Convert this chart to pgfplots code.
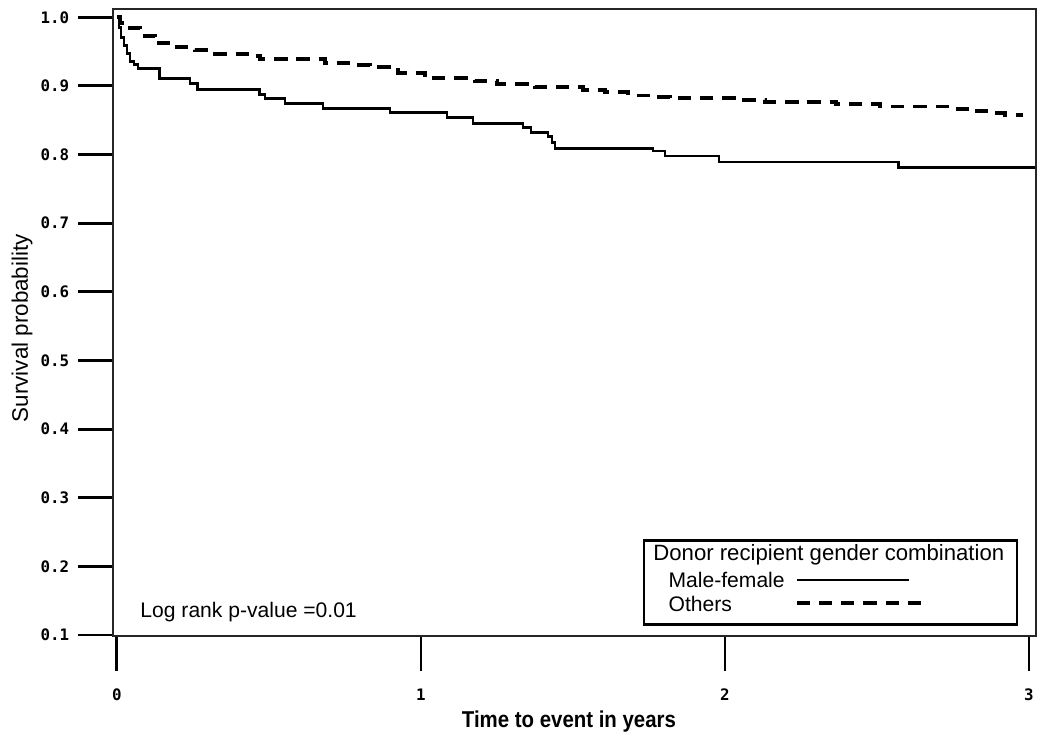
\documentclass[border=0pt]{standalone}
\usepackage{fontspec}
\setmainfont{Liberation Sans}
\newfontfamily\ticksfont{DejaVu Sans Mono}
\usepackage{graphicx}
\usepackage{pgfplots}
\pgfplotsset{compat=1.18}
\begin{document}
\begin{tikzpicture}
\begin{axis}[
  scale only axis,
  width=12.307cm, height=8.36cm,
  xmin=-0.013, xmax=3.023,
  ymin=0.0985, ymax=1.012,
  clip=false,
  axis line style={line width=0.55pt, black!85},
  tick pos=left,
  tick align=outside,
  major tick length=0.46cm,
  tick style={line width=1.1pt, black},
  xtick={0,1,2,3},
  ytick={0.1,0.2,0.3,0.4,0.5,0.6,0.7,0.8,0.9,1.0},
  /pgf/number format/assume math mode=true,
  yticklabel style={/pgf/number format/.cd, fixed, fixed zerofill, precision=1},
  tick label style={font=\ticksfont\bfseries\fontsize{6}{7}\selectfont},
  xticklabel style={yshift=-0.12cm},
]
\addplot[const plot, black, line width=1.05pt] coordinates {
(0,1.000) (0.0066,0.985) (0.013,0.970) (0.023,0.959) (0.033,0.947) (0.043,0.936)
(0.056,0.931) (0.069,0.925) (0.141,0.911) (0.240,0.903) (0.266,0.895) (0.470,0.888)
(0.487,0.882) (0.553,0.874) (0.678,0.867) (0.898,0.861) (1.086,0.854) (1.171,0.845)
(1.336,0.839) (1.362,0.832) (1.418,0.826) (1.431,0.818) (1.441,0.809) (1.763,0.805)
(1.803,0.798) (1.980,0.789) (2.572,0.781) (3.020,0.781)
};
\addplot[const plot, black, line width=1.5pt, dash pattern=on 5pt off 3.4pt] coordinates {
(0,1.000) (0.010,0.991) (0.036,0.984) (0.076,0.973) (0.125,0.962) (0.180,0.956)
(0.257,0.952) (0.312,0.947) (0.437,0.944) (0.470,0.939) (0.684,0.933) (0.783,0.931)
(0.832,0.928) (0.924,0.919) (1.013,0.911) (1.178,0.907) (1.250,0.903) (1.375,0.898)
(1.533,0.894) (1.605,0.891) (1.681,0.886) (1.753,0.884) (1.819,0.882) (2.056,0.879)
(2.132,0.877) (2.365,0.873) (2.510,0.870) (2.747,0.867) (2.813,0.863) (2.888,0.860)
(2.921,0.858) (2.980,0.858)
};
% legend
\draw[line width=1pt, black] (axis cs:1.734,0.2378) rectangle (axis cs:2.961,0.1152);
\node[anchor=west, inner sep=0pt, font=\fontsize{8.4}{9}\selectfont] at (axis cs:1.763,0.2171) {Donor recipient gender combination};
\node[anchor=west, inner sep=0pt, font=\fontsize{8}{9}\selectfont] at (axis cs:1.813,0.180) {Male-female};
\node[anchor=west, inner sep=0pt, font=\fontsize{8}{9}\selectfont] at (axis cs:1.813,0.1448) {Others};
\draw[black, line width=1.05pt] (axis cs:2.237,0.180) -- (axis cs:2.605,0.180);
\draw[black, line width=1.5pt, dash pattern=on 5pt off 3.4pt] (axis cs:2.237,0.146) -- (axis cs:2.648,0.146);
% annotation
\node[anchor=west, inner sep=0pt, font=\fontsize{8}{9}\selectfont] at (axis cs:0.0757,0.133) {Log rank p-value =0.01};
% axis labels
\node[rotate=90, inner sep=0pt, font=\fontsize{8.5}{10}\selectfont] at (rel axis cs:-0.0986,0.491) {Survival probability};
\node[inner sep=0pt, font=\bfseries\fontsize{8.7}{10}\selectfont] at (rel axis cs:0.494,-0.137) {\scalebox{0.89}[1]{Time to event in years}};
\path (rel axis cs:-0.1224,-0.1722) rectangle (rel axis cs:1.0152,1.0144);
\end{axis}
\end{tikzpicture}
\end{document}
